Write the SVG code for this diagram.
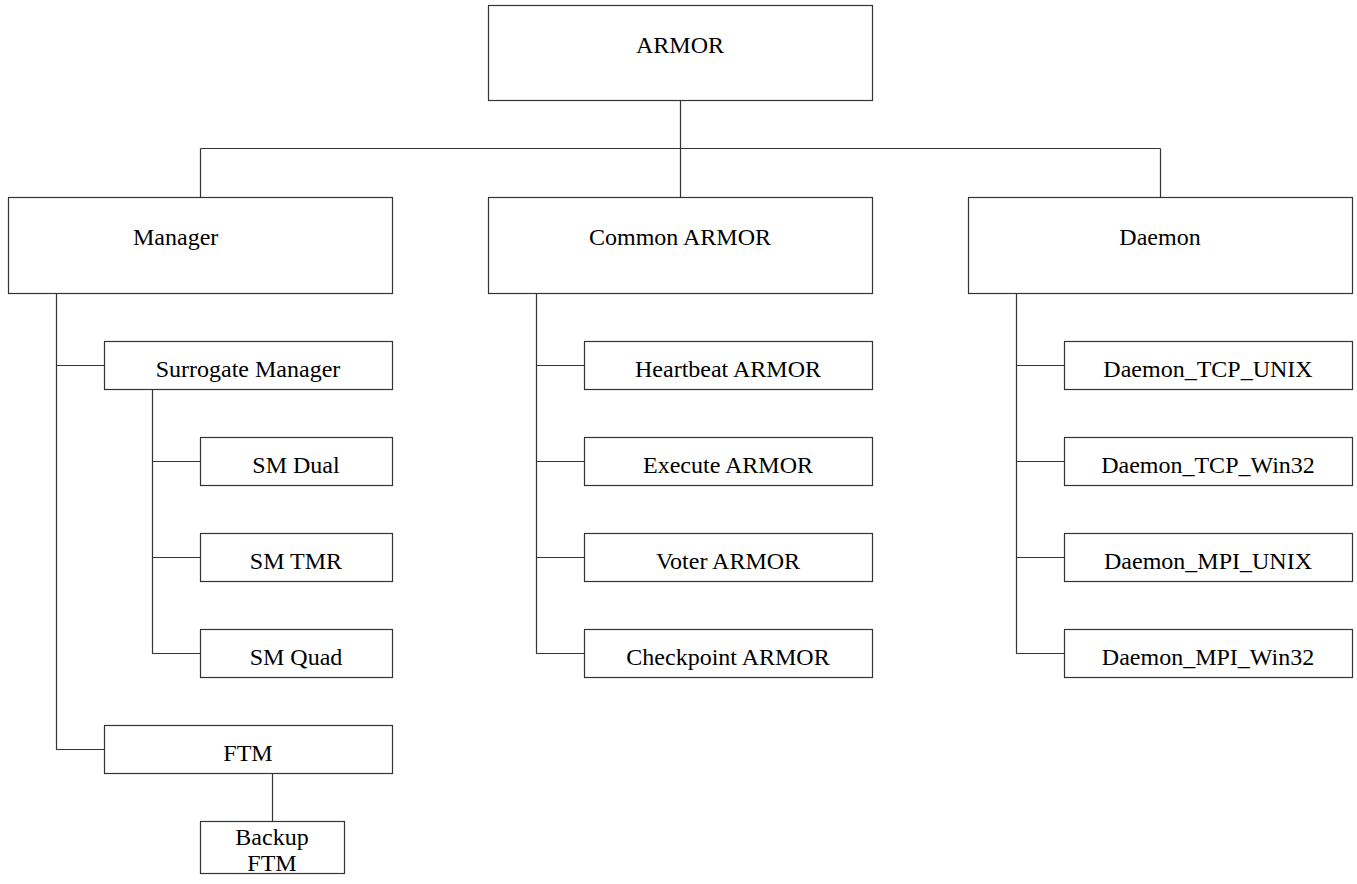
<svg xmlns="http://www.w3.org/2000/svg" width="1357" height="884" viewBox="0 0 1357 884">
  <style>
    .box { fill: #ffffff; stroke: #333333; stroke-width: 1.2; }
    .link { fill: none; stroke: #333333; stroke-width: 1.2; }
    .label { font-family: "Liberation Serif", "Times New Roman", serif; font-size: 24px; fill: #000000; text-anchor: middle; }
  </style>
  <rect width="1357" height="884" fill="#ffffff"/>

  <!-- connectors -->
  <g id="connectors">
    <path class="link" d="M680.5 100.5 V148.5 M200.5 148.5 H1160.5 M200.5 148.5 V197.5 M680.5 148.5 V197.5 M1160.5 148.5 V197.5"/>
    <!-- Manager branch -->
    <path class="link" d="M56.5 293.5 V749.5 H104.5 M56.5 365.5 H104.5"/>
    <path class="link" d="M152.5 389.5 V653.5 H200.5 M152.5 461.5 H200.5 M152.5 557.5 H200.5"/>
    <path class="link" d="M272.5 773.5 V821.5"/>
    <!-- Common ARMOR branch -->
    <path class="link" d="M536.5 293.5 V653.5 H584.5 M536.5 365.5 H584.5 M536.5 461.5 H584.5 M536.5 557.5 H584.5"/>
    <!-- Daemon branch -->
    <path class="link" d="M1016.5 293.5 V653.5 H1064.5 M1016.5 365.5 H1064.5 M1016.5 461.5 H1064.5 M1016.5 557.5 H1064.5"/>
  </g>

  <!-- root -->
  <g id="armor">
    <rect class="box" x="488.5" y="5.5" width="384" height="95"/>
    <text class="label" x="680" y="53">ARMOR</text>
  </g>

  <!-- second level -->
  <g id="manager">
    <rect class="box" x="8.5" y="197.5" width="384" height="96"/>
    <text class="label" x="133" y="245" style="text-anchor:start">Manager</text>
  </g>
  <g id="common-armor">
    <rect class="box" x="488.5" y="197.5" width="384" height="96"/>
    <text class="label" x="680" y="245">Common ARMOR</text>
  </g>
  <g id="daemon">
    <rect class="box" x="968.5" y="197.5" width="384" height="96"/>
    <text class="label" x="1160" y="245">Daemon</text>
  </g>

  <!-- Manager children -->
  <g id="surrogate-manager">
    <rect class="box" x="104.5" y="341.5" width="288" height="48"/>
    <text class="label" x="248" y="377">Surrogate Manager</text>
  </g>
  <g id="sm-dual">
    <rect class="box" x="200.5" y="437.5" width="192" height="48"/>
    <text class="label" x="296" y="473">SM Dual</text>
  </g>
  <g id="sm-tmr">
    <rect class="box" x="200.5" y="533.5" width="192" height="48"/>
    <text class="label" x="296" y="569">SM TMR</text>
  </g>
  <g id="sm-quad">
    <rect class="box" x="200.5" y="629.5" width="192" height="48"/>
    <text class="label" x="296" y="665">SM Quad</text>
  </g>
  <g id="ftm">
    <rect class="box" x="104.5" y="725.5" width="288" height="48"/>
    <text class="label" x="248" y="761">FTM</text>
  </g>
  <g id="backup-ftm">
    <rect class="box" x="200.5" y="821.5" width="144" height="52"/>
    <text class="label" x="272" y="845">Backup</text>
    <text class="label" x="272" y="871">FTM</text>
  </g>

  <!-- Common ARMOR children -->
  <g id="heartbeat-armor">
    <rect class="box" x="584.5" y="341.5" width="288" height="48"/>
    <text class="label" x="728" y="377">Heartbeat ARMOR</text>
  </g>
  <g id="execute-armor">
    <rect class="box" x="584.5" y="437.5" width="288" height="48"/>
    <text class="label" x="728" y="473">Execute ARMOR</text>
  </g>
  <g id="voter-armor">
    <rect class="box" x="584.5" y="533.5" width="288" height="48"/>
    <text class="label" x="728" y="569">Voter ARMOR</text>
  </g>
  <g id="checkpoint-armor">
    <rect class="box" x="584.5" y="629.5" width="288" height="48"/>
    <text class="label" x="728" y="665">Checkpoint ARMOR</text>
  </g>

  <!-- Daemon children -->
  <g id="daemon-tcp-unix">
    <rect class="box" x="1064.5" y="341.5" width="288" height="48"/>
    <text class="label" x="1208" y="377">Daemon_TCP_UNIX</text>
  </g>
  <g id="daemon-tcp-win32">
    <rect class="box" x="1064.5" y="437.5" width="288" height="48"/>
    <text class="label" x="1208" y="473">Daemon_TCP_Win32</text>
  </g>
  <g id="daemon-mpi-unix">
    <rect class="box" x="1064.5" y="533.5" width="288" height="48"/>
    <text class="label" x="1208" y="569">Daemon_MPI_UNIX</text>
  </g>
  <g id="daemon-mpi-win32">
    <rect class="box" x="1064.5" y="629.5" width="288" height="48"/>
    <text class="label" x="1208" y="665">Daemon_MPI_Win32</text>
  </g>
</svg>
